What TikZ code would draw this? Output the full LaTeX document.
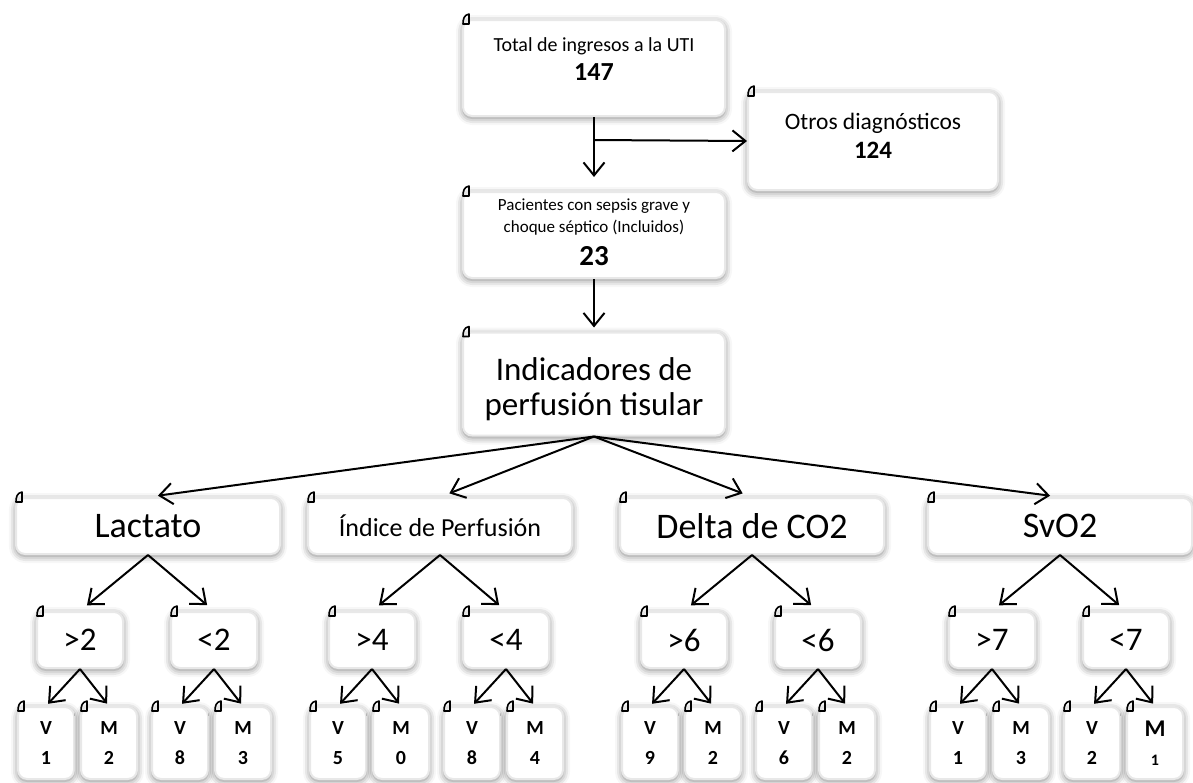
\documentclass[tikz,border=0pt]{standalone}
\usepackage{fontspec}
\setmainfont{Carlito}
\usetikzlibrary{arrows.meta,shadows.blur}

\newcommand{\fsz}[1]{\fontsize{#1}{#1}\selectfont}
\newcommand{\vmcell}[2]{\textbf{#1}\\[10pt]\textbf{#2}}
\newcommand{\oddcell}{{\fsz{24}\textbf{M}}\\[9pt]{\fsz{16}\textbf{1}}}

\tikzset{
  box/.style={draw=black!9,line width=2pt,fill=white,rounded corners=9pt,
    blur shadow={shadow xshift=0pt,shadow yshift=-2pt,shadow blur radius=7pt,shadow opacity=50},
    align=center,inner sep=0pt},
  txt/.style={align=center,inner sep=0pt},
  arr/.style={-{Straight Barb[length=13pt,width=21pt]},line width=2pt},
  corner/.pic={\draw[line width=1.6pt,line join=round] (0,0) -- (6,0) -- (6,-10) .. controls (1,-9) and (0,-5) .. cycle;}
}

\begin{document}
\begin{tikzpicture}[x=1pt,y=-1pt]
  \useasboundingbox (0,0) rectangle (1193,782);
  % upper part
  \node[box,minimum width=262pt,minimum height=96pt] (total) at (594,68) {};
  \node[txt,font=\fsz{20}] (total-txt) at (594,59)
    {Total de ingresos a la UTI\\[7pt]{\fsz{26}\bfseries 147}};
  \node[box,minimum width=250pt,minimum height=98pt] (otros) at (873,141) {};
  \node[txt,font=\fsz{23.5}] (otros-txt) at (873,136)
    {Otros diagnósticos\\[6pt]{\fsz{25}\bfseries 124}};
  \node[box,minimum width=262pt,minimum height=86pt] (sepsis) at (594,235) {};
  \node[txt,font=\fsz{17}] (sepsis-txt) at (594,232)
    {Pacientes con sepsis grave y\\[5pt]choque séptico (Incluidos)\\[10pt]{\fsz{29}\bfseries 23}};
  \node[box,minimum width=262pt,minimum height=103pt] (indic) at (594,384) {};
  \node[txt,font=\fsz{33}] (indic-txt) at (594,389)
    {Indicadores de\\[2pt]perfusión tisular};
  \coordinate (split) at (594,140);
  \draw[arr,shorten >=14pt] (total.south) -- (sepsis.north);
  \draw[arr] (split) -- (otros.west);
  \draw[arr,shorten >=4pt] (sepsis.south) -- (indic.north);
  \foreach \n in {total,otros,sepsis,indic}
    \pic at ([shift={(1,5)}]\n.north west) {corner};
  % indicators, cut-off values, V / M counts
  \foreach \cx/\lab/\fs/\lo/\hi/\va/\ma/\vb/\mb [count=\i] in {
      148/Lactato/36/{>2}/{<2}/1/2/8/{\vmcell{M}{3}},
      440/{Índice de Perfusión}/26/{>4}/{<4}/5/0/8/{\vmcell{M}{4}},
      752/{Delta de CO2}/36/{>6}/{<6}/9/2/6/{\vmcell{M}{2}},
      1060/SvO2/36/{>7}/{<7}/1/3/2/{\oddcell}} {
    \node[box,minimum width=264pt,minimum height=56pt,font=\fsz{\fs}] (g\i) at (\cx,526) {\lab};
    \node[box,minimum width=86pt,minimum height=56pt,font=\fsz{33}] (g\i-lo) at (\cx-68,640) {\lo};
    \node[box,minimum width=86pt,minimum height=56pt,font=\fsz{33}] (g\i-hi) at (\cx+66,640) {\hi};
    \node[box,minimum width=56pt,minimum height=72pt,font=\fsz{20}] (g\i-lo-v) at (\cx-102,743) {\vmcell{V}{\va}};
    \node[box,minimum width=56pt,minimum height=72pt,font=\fsz{20}] (g\i-lo-m) at (\cx-39,743) {\vmcell{M}{\ma}};
    \node[box,minimum width=56pt,minimum height=72pt,font=\fsz{20}] (g\i-hi-v) at (\cx+32,743) {\vmcell{V}{\vb}};
    \node[box,minimum width=56pt,minimum height=72pt,font=\fsz{20}] (g\i-hi-m) at (\cx+95,743) {\mb};
    \draw[arr,shorten >=10pt] (indic.south) -- (g\i.north);
    \draw[arr,shorten >=9pt] (g\i.south) -- (g\i-lo.north);
    \draw[arr,shorten >=9pt] (g\i.south) -- (g\i-hi.north);
    \draw[arr,shorten >=3pt] (g\i-lo.south) -- (g\i-lo-v.north);
    \draw[arr,shorten >=3pt] (g\i-lo.south) -- (g\i-lo-m.north);
    \draw[arr,shorten >=3pt] (g\i-hi.south) -- (g\i-hi-v.north);
    \draw[arr,shorten >=3pt] (g\i-hi.south) -- (g\i-hi-m.north);
    \foreach \n in {g\i,g\i-lo,g\i-hi,g\i-lo-v,g\i-lo-m,g\i-hi-v,g\i-hi-m}
      \pic at ([shift={(1,5)}]\n.north west) {corner};
  }
\end{tikzpicture}
\end{document}
